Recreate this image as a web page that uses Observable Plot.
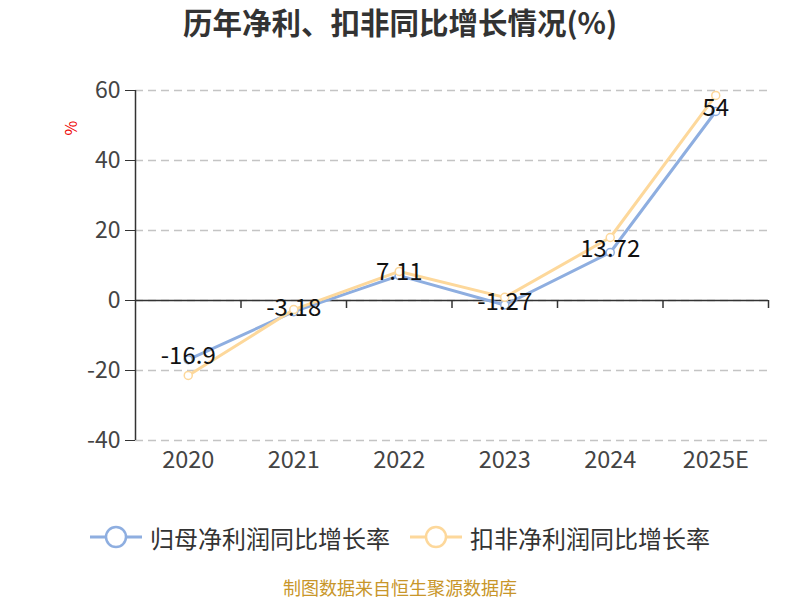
<!DOCTYPE html>
<html><head><meta charset="utf-8">
<script src="https://cdn.jsdelivr.net/npm/d3@7"></script>
<script src="https://cdn.jsdelivr.net/npm/@observablehq/plot@0.6"></script>
<style>
body{margin:0;background:#fff;font-family:"Noto Sans CJK SC","Noto Sans",sans-serif;}
#wrap{position:relative;width:800px;height:600px;overflow:hidden;}
#title{position:absolute;left:0;top:0;width:800px;text-align:center;font-size:29.5px;font-weight:bold;color:#333;line-height:42px;}
#chart{position:absolute;left:0;top:60px;}
#unit{position:absolute;left:63px;top:118px;color:#e00;font-size:16px;line-height:20px;transform:rotate(-90deg);transform-origin:center;}
#legend{position:absolute;left:0;top:517px;width:800px;height:40px;}
.item{position:absolute;top:0;height:40px;display:flex;align-items:center;font-size:24px;color:#333;}
.item svg{margin-right:8px;}
#source{position:absolute;left:0;top:578px;width:800px;text-align:center;font-size:18px;line-height:19px;color:#c8962a;}
</style>
</head><body>
<div id="wrap">
  <div id="title">历年净利、扣非同比增长情况(%)</div>
  <div id="unit">%</div>
  <div id="chart"></div>
  <div id="legend"></div>
  <div id="source">制图数据来自恒生聚源数据库</div>
</div>
<script>
const years = ["2020", "2021", "2022", "2023", "2024", "2025E"];
const netProfitGrowth = [-16.9, -3.18, 7.11, -1.27, 13.72, 54];
const deductedGrowth = [-21.4, -2.6, 8.3, 0.9, 18.0, 58.6];
const yTicks = [-40, -20, 0, 20, 40, 60];
const seriesNames = ["归母净利润同比增长率", "扣非净利润同比增长率"];
const colors = ["#8eaee0", "#fdd89b"];

const idx = d3.range(years.length);
const bounds = idx.map(i => i + 0.5);
const s1 = idx.map(i => ({i, v: netProfitGrowth[i]}));
const s2 = idx.map(i => ({i, v: deductedGrowth[i]}));

const chart = Plot.plot({
  width: 800,
  height: 420,
  marginLeft: 135,
  marginRight: 32,
  marginTop: 30,
  marginBottom: 40,
  style: {fontFamily: '"Noto Sans CJK SC","Noto Sans",sans-serif', color: "#333", background: "transparent"},
  x: {type: "linear", domain: [-0.5, years.length - 0.5]},
  y: {domain: [-40, 60]},
  marks: [
    Plot.gridY(yTicks, {stroke: "#c4c4c4", strokeOpacity: 1, strokeDasharray: "8,5", strokeWidth: 1.3}),
    Plot.axisY({ticks: yTicks, tickFormat: d => String(d), tickSize: 10, tickPadding: 5, fontSize: 23, stroke: "#333", fill: "#444", label: null}),
    Plot.axisX({ticks: idx, tickFormat: i => years[i], tickSize: 0, tickPadding: 11, fontSize: 23.5, fill: "#444", label: null}),
    Plot.ruleX([-0.5], {y1: -40, y2: 60, stroke: "#333", strokeWidth: 1.5}),
    Plot.ruleY([0], {stroke: "#333", strokeWidth: 1.5}),
    Plot.ruleX(bounds, {y1: 0, y2: 0, insetBottom: -8, stroke: "#333", strokeWidth: 1.5}),
    Plot.line(s1, {x: "i", y: "v", stroke: colors[0], strokeWidth: 3}),
    Plot.dot(s1, {x: "i", y: "v", r: 4, fill: "white", stroke: colors[0], strokeWidth: 1.5}),
    Plot.line(s2, {x: "i", y: "v", stroke: colors[1], strokeWidth: 3}),
    Plot.dot(s2, {x: "i", y: "v", r: 4, fill: "white", stroke: colors[1], strokeWidth: 1.5}),
    Plot.text(s1, {x: "i", y: "v", text: d => String(d.v), dy: -3, fontSize: 24, fill: "#111"})
  ]
});
document.getElementById("chart").appendChild(chart);

const legend = document.getElementById("legend");
const lx = [90, 410];
seriesNames.forEach((name, k) => {
  const div = document.createElement("div");
  div.className = "item";
  div.style.left = lx[k] + "px";
  div.innerHTML = `<svg width="52" height="30"><line x1="0" y1="15" x2="52" y2="15" stroke="${colors[k]}" stroke-width="3"/><circle cx="26" cy="15" r="10" fill="white" stroke="${colors[k]}" stroke-width="2.5"/></svg><span>${name}</span>`;
  legend.appendChild(div);
});
</script>
</body></html>
